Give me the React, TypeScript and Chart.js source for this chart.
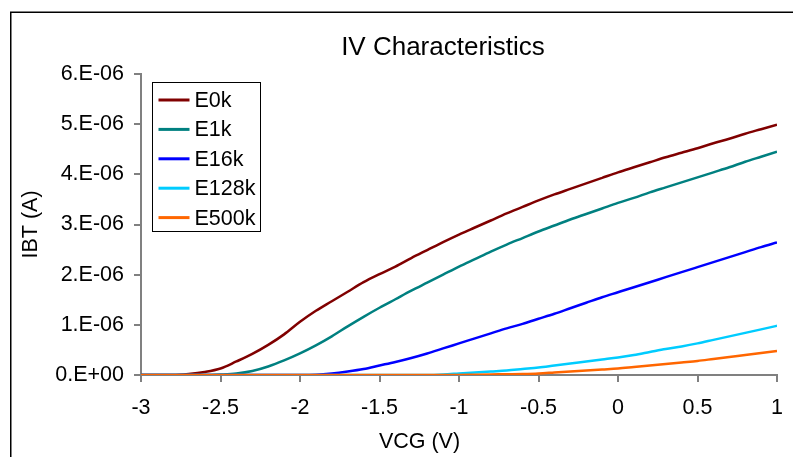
import { useEffect, useRef } from "react";
import { Chart, registerables } from "chart.js";

Chart.register(...registerables);

// Gate voltage sweep (V)
const VCG = [
  -3.0, -2.9, -2.8, -2.7, -2.6, -2.5, -2.4, -2.3, -2.2, -2.1,
  -2.0, -1.9, -1.8, -1.7, -1.6, -1.5, -1.4, -1.3, -1.2, -1.1,
  -1.0, -0.9, -0.8, -0.7, -0.6, -0.5, -0.4, -0.3, -0.2, -0.1,
  0.0, 0.1, 0.2, 0.3, 0.4, 0.5, 0.6, 0.7, 0.8, 0.9, 1.0,
];

// Drain current per stress level, in µA
const E0K = [
  0, 0, 0, 0.02, 0.06, 0.13, 0.27, 0.42, 0.60, 0.81,
  1.06, 1.28, 1.47, 1.66, 1.85, 2.01, 2.16, 2.33, 2.49, 2.65,
  2.80, 2.94, 3.08, 3.22, 3.35, 3.48, 3.60, 3.71, 3.82, 3.93,
  4.04, 4.14, 4.24, 4.34, 4.43, 4.52, 4.62, 4.71, 4.81, 4.90, 4.99,
];
const E1K = [
  0, 0, 0, 0, 0, 0.01, 0.03, 0.08, 0.17, 0.29,
  0.43, 0.59, 0.77, 0.97, 1.16, 1.34, 1.51, 1.68, 1.84, 2.00,
  2.16, 2.31, 2.46, 2.60, 2.73, 2.86, 2.98, 3.10, 3.21, 3.32,
  3.43, 3.53, 3.64, 3.74, 3.84, 3.94, 4.04, 4.14, 4.25, 4.35, 4.45,
];
const E16K = [
  0, 0, 0, 0, 0, 0, 0, 0, 0, 0,
  0, 0.005, 0.03, 0.07, 0.12, 0.19, 0.26, 0.34, 0.43, 0.53,
  0.63, 0.73, 0.83, 0.93, 1.02, 1.12, 1.22, 1.33, 1.44, 1.55,
  1.65, 1.75, 1.85, 1.95, 2.05, 2.15, 2.25, 2.35, 2.45, 2.55, 2.64,
];
const E128K = [
  0, 0, 0, 0, 0, 0, 0, 0, 0, 0,
  0, 0, 0, 0, 0, 0, 0, 0, 0, 0.01,
  0.03, 0.05, 0.07, 0.09, 0.12, 0.15, 0.19, 0.23, 0.27, 0.31,
  0.35, 0.40, 0.46, 0.52, 0.57, 0.63, 0.70, 0.77, 0.84, 0.91, 0.98,
];
const E500K = [
  0, 0, 0, 0, 0, 0, 0, 0, 0, 0,
  0, 0, 0, 0, 0, 0, 0, 0, 0, 0,
  0, 0.005, 0.01, 0.015, 0.02, 0.03, 0.05, 0.07, 0.09, 0.11,
  0.13, 0.16, 0.19, 0.22, 0.25, 0.28, 0.32, 0.36, 0.40, 0.44, 0.48,
];

const SERIES_LABELS = ["E0k", "E1k", "E16k", "E128k", "E500k"];
const SERIES_VALUES = [E0K, E1K, E16K, E128K, E500K];
const SERIES_COLORS = ["#800000", "#008080", "#0000FF", "#00CCFF", "#FF6600"];

const X_TITLE = "VCG (V)";
const Y_TITLE = "IBT (A)";
const CHART_TITLE = "IV Characteristics";

const FONT_FAMILY = "Arial, 'Liberation Sans', sans-serif";
const AXIS_FONT_SIZE = 21.5;

// Excel-style "0.E+00" number format
function excelSci(v: number): string {
  if (Math.abs(v) < 1e-15) return "0.E+00";
  const exp = Math.floor(Math.log10(Math.abs(v)) + 1e-6);
  const m = Math.round(v / Math.pow(10, exp));
  const sign = exp < 0 ? "-" : "+";
  return `${m}.E${sign}${String(Math.abs(exp)).padStart(2, "0")}`;
}

// Outer frame, boxed legend and the x-axis caption
const sheetDecor = {
  id: "sheetDecor",
  beforeDraw(chart: any) {
    const { ctx } = chart;
    ctx.save();
    ctx.fillStyle = "#ffffff";
    ctx.fillRect(0, 0, chart.width, chart.height);
    ctx.strokeStyle = "#000000";
    ctx.lineWidth = 1.5;
    ctx.strokeRect(10.75, 12.25, chart.width + 100, chart.height + 100);
    ctx.restore();
  },
  afterDraw(chart: any) {
    const { ctx, chartArea } = chart;
    ctx.save();

    // legend
    const bx = chartArea.left + 11.5;
    const by = chartArea.top + 8.5;
    const bw = 108;
    const bh = 149;
    ctx.fillStyle = "#ffffff";
    ctx.fillRect(bx, by, bw, bh);
    ctx.strokeStyle = "#000000";
    ctx.lineWidth = 1;
    ctx.strokeRect(bx, by, bw, bh);
    ctx.font = `${AXIS_FONT_SIZE}px ${FONT_FAMILY}`;
    ctx.textBaseline = "middle";
    ctx.textAlign = "left";
    chart.data.datasets.forEach((ds: any, i: number) => {
      const cy = by + 17.5 + i * 29.4;
      ctx.strokeStyle = ds.borderColor;
      ctx.lineWidth = 3;
      ctx.beginPath();
      ctx.moveTo(bx + 6, cy);
      ctx.lineTo(bx + 37, cy);
      ctx.stroke();
      ctx.fillStyle = "#000000";
      ctx.fillText(ds.label, bx + 42, cy + 1);
    });

    // x-axis caption
    ctx.textAlign = "center";
    ctx.textBaseline = "alphabetic";
    ctx.fillStyle = "#000000";
    ctx.fillText(X_TITLE, 419.5, 447.5);
    ctx.restore();
  },
};

export default function App() {
  const canvasRef = useRef<HTMLCanvasElement | null>(null);

  useEffect(() => {
    const canvas = canvasRef.current;
    if (!canvas) return;

    const datasets = SERIES_LABELS.map((label, i) => ({
      label,
      data: VCG.map((x, j) => ({ x, y: SERIES_VALUES[i][j] * 1e-6 })),
      borderColor: SERIES_COLORS[i],
      backgroundColor: SERIES_COLORS[i],
      borderWidth: 2.5,
      pointRadius: 0,
      fill: false,
      cubicInterpolationMode: "monotone" as const,
      // later series paint over earlier ones
      order: SERIES_LABELS.length - i,
    }));

    const axisFont = { family: FONT_FAMILY, size: AXIS_FONT_SIZE };

    const chart = new Chart(canvas, {
      type: "line",
      data: { datasets },
      plugins: [sheetDecor],
      options: {
        responsive: false,
        animation: false,
        devicePixelRatio: 1,
        layout: { padding: { left: 0, right: 0, top: 0, bottom: 0 } },
        plugins: {
          legend: { display: false },
          tooltip: { enabled: false },
          title: {
            display: true,
            text: CHART_TITLE,
            color: "#000000",
            font: { family: FONT_FAMILY, size: 26, weight: "normal" },
            padding: { top: 32, bottom: 10.8 },
          },
        },
        scales: {
          x: {
            type: "linear",
            min: -3,
            max: 1,
            ticks: {
              stepSize: 0.5,
              color: "#000000",
              font: axisFont,
              padding: 13,
              maxRotation: 0,
              autoSkip: false,
              callback: (v: any) => String(Math.round(Number(v) * 1000) / 1000),
            },
            grid: {
              drawOnChartArea: false,
              drawTicks: true,
              tickLength: 7,
              color: "#808080",
              lineWidth: 2,
            },
            border: { display: true, color: "#808080", width: 2 },
            afterFit: (s: any) => {
              s.height = 82;
            },
          },
          y: {
            type: "linear",
            min: 0,
            max: 6e-6,
            ticks: {
              stepSize: 1e-6,
              color: "#000000",
              font: axisFont,
              padding: 10,
              callback: (v: any) => excelSci(Number(v)),
            },
            grid: {
              drawOnChartArea: false,
              drawTicks: true,
              tickLength: 7,
              color: "#808080",
              lineWidth: 2,
            },
            border: { display: true, color: "#808080", width: 2 },
            title: {
              display: true,
              text: Y_TITLE,
              color: "#000000",
              font: axisFont,
              padding: { top: 18, bottom: 0 },
            },
            afterFit: (s: any) => {
              s.width = 141;
            },
          },
          // empty right-hand strip so the plot ends short of the frame
          rightGap: {
            type: "linear",
            position: "right",
            display: true,
            ticks: { display: false },
            grid: { display: false },
            border: { display: false },
            afterFit: (s: any) => {
              s.width = 109;
            },
          },
        },
      },
    });

    return () => chart.destroy();
  }, []);

  return (
    <div
      style={{
        position: "fixed",
        left: 0,
        top: 0,
        width: 793,
        height: 457,
        overflow: "hidden",
        background: "#ffffff",
      }}
    >
      <canvas
        ref={canvasRef}
        width={886}
        height={457}
        style={{ display: "block", width: 886, height: 457 }}
      />
    </div>
  );
}
